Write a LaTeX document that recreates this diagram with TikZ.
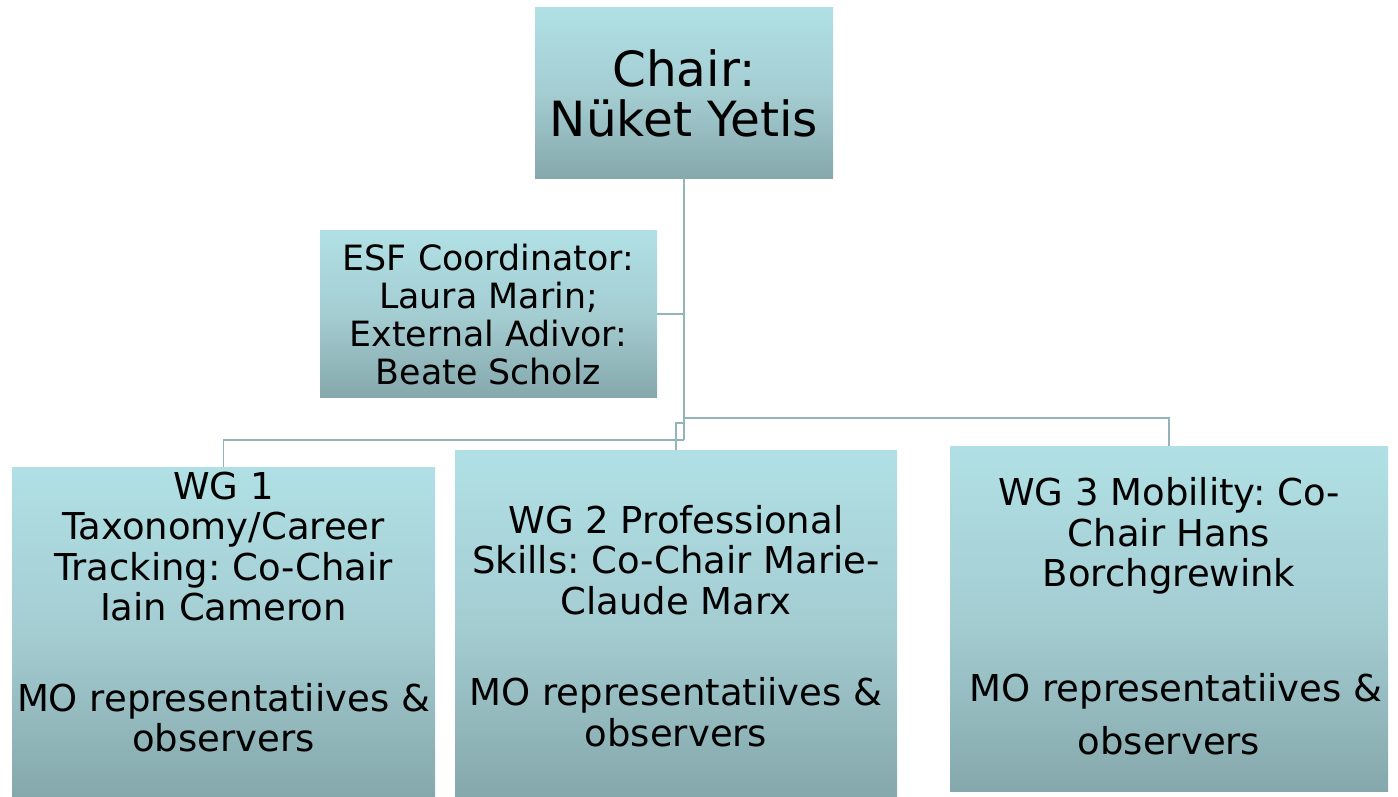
\documentclass[tikz,border=0pt]{standalone}
\usepackage{fontspec}
\setmainfont{DejaVu Sans}
\frenchspacing
\definecolor{boxtop}{HTML}{B0E0E5}
\definecolor{boxmid}{HTML}{A4CDD2}
\definecolor{boxbot}{HTML}{85A8AC}
\definecolor{linkcol}{HTML}{93B5BA}
\tikzset{
  orgbox/.style={rectangle, inner sep=0pt, draw=none,
    top color=boxtop, bottom color=boxbot, middle color=boxmid},
  orgtext/.style={inner sep=0pt, align=center, text=black},
  link/.style={draw=linkcol, line width=1.6pt}
}
\begin{document}
\begin{tikzpicture}[x=1pt,y=-1pt]
\useasboundingbox (0,0) rectangle (1398,796);
% boxes
\node[orgbox, minimum width=298, minimum height=171] (chair) at (684,92.5) {};
\node[orgbox, minimum width=337, minimum height=167] (esf) at (488.5,314) {};
\node[orgbox, minimum width=423, minimum height=329] (wg1) at (223.5,631.5) {};
\node[orgbox, minimum width=442, minimum height=346] (wg2) at (676,623) {};
\node[orgbox, minimum width=438, minimum height=345] (wg3) at (1169,618.5) {};
% texts
\node[orgtext, font=\fontsize{48.5}{50}\selectfont] (chairt) at (684,93) {Chair:\\Nüket Yetis};
\node[orgtext, font=\fontsize{34.8}{37.7}\selectfont] (esft) at (488.5,314.5)
  {ESF Coordinator:\\Laura Marin;\\External Adivor:\\Beate Scholz};
\node[orgtext, font=\fontsize{37}{40.5}\selectfont] (wg1t) at (223.5,612)
  {WG 1\\Taxonomy/Career\\Tracking: Co-Chair\\Iain Cameron\\[50pt]MO representatiives \&\\observers};
\node[orgtext, font=\fontsize{37}{40.5}\selectfont] (wg2t) at (676,626)
  {WG 2 Professional\\Skills: Co-Chair Marie-\\Claude Marx\\[51pt]MO representatiives \&\\observers};
\node[orgtext, font=\fontsize{37}{40.5}\selectfont] (wg3t) at (1169,616.5)
  {WG 3 Mobility: Co-\\Chair Hans\\Borchgrewink\\[74pt]\hspace*{14pt}MO representatiives \&\\[13pt]observers};
% connectors
\coordinate (trunk) at (chair.south |- 0,440);
\coordinate (j3) at (chair.south |- 0,418);
\coordinate (j2) at (chair.south |- 0,423);
\draw[link] (chair.south) -- (trunk);
\draw[link] (esf.east) -- (esf.east -| chair.south);
\draw[link] (trunk) -| (wg1.north);
\draw[link] (j2) -| (wg2.north);
\draw[link] (j3) -| (wg3.north);
\end{tikzpicture}
\end{document}
